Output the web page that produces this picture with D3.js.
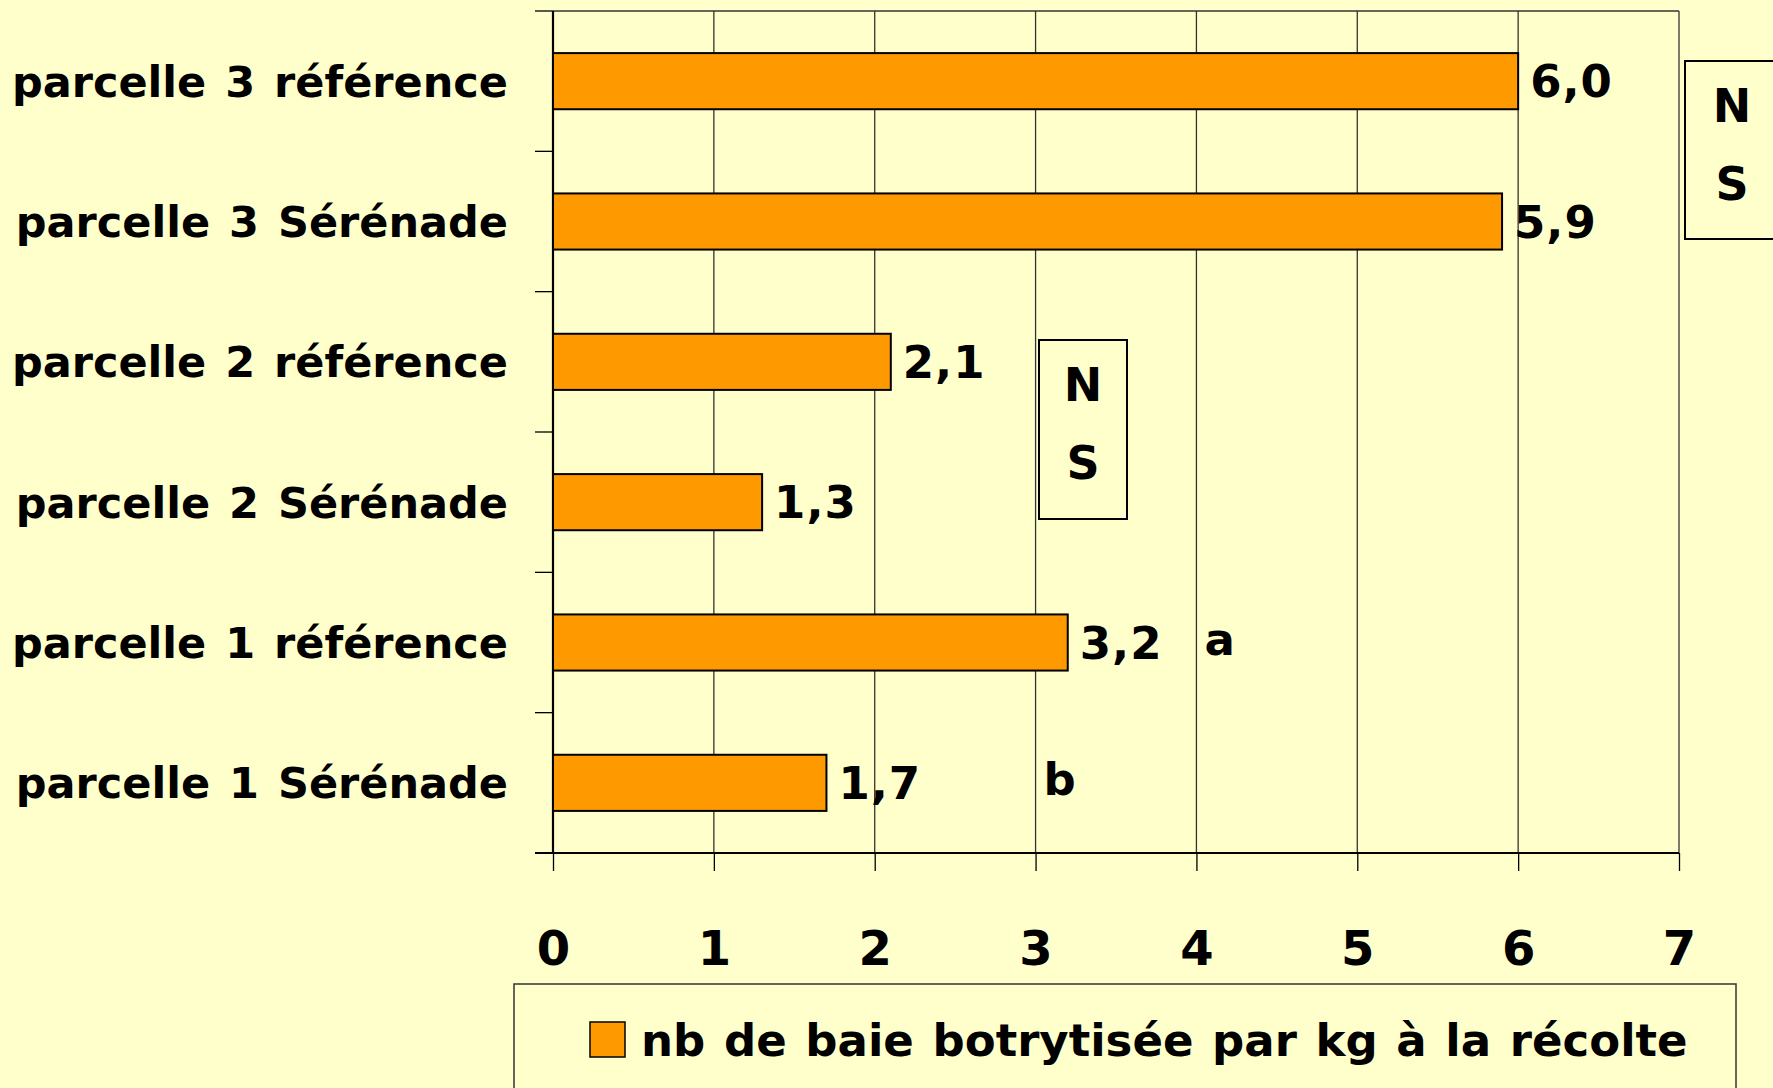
<!DOCTYPE html>
<html>
<head>
<meta charset="utf-8">
<script src="https://cdn.jsdelivr.net/npm/d3@7"></script>
<style>
  html, body { margin: 0; padding: 0; background: #ffffcc; }
  svg { display: block; }
  text { font-family: "Comic Sans MS", "DejaVu Sans", sans-serif; font-weight: bold; fill: #000; }
</style>
</head>
<body>
<svg id="chart" width="1773" height="1088"></svg>
<script>
// data, top to bottom as in the picture
const categories = [
  'parcelle 3 référence',
  'parcelle 3 Sérénade',
  'parcelle 2 référence',
  'parcelle 2 Sérénade',
  'parcelle 1 référence',
  'parcelle 1 Sérénade',
];
const values = [6.0, 5.9, 2.1, 1.3, 3.2, 1.7];
const xTicks = [0, 1, 2, 3, 4, 5, 6, 7];
const seriesName = 'nb de baie botrytisée par kg à la récolte';
// significance letters next to parcelle 1 bars
const letters = [
  { category: 'parcelle 1 référence', value: 4.0, text: 'a' },
  { category: 'parcelle 1 Sérénade', value: 3.0, text: 'b' },
];

const svg = d3.select('#chart');
const plotLeft = 553, plotRight = 1679, plotTop = 11, plotBottom = 853;

const x = d3.scaleLinear().domain([0, 7]).range([plotLeft, plotRight]);
const y = d3.scaleBand()
  .domain(categories)
  .range([plotTop, plotBottom])
  .paddingInner(0.6)
  .paddingOuter(0.3);
const step = y.step();
const bw = y.bandwidth();

// vertical grid lines
svg.append('g')
  .selectAll('line')
  .data(xTicks.slice(1))
  .enter()
  .append('line')
  .attr('x1', (d) => x(d))
  .attr('x2', (d) => x(d))
  .attr('y1', plotTop)
  .attr('y2', plotBottom)
  .attr('stroke', '#333')
  .attr('stroke-width', 1.3);

// top border
svg.append('line')
  .attr('x1', plotLeft).attr('x2', plotRight)
  .attr('y1', plotTop).attr('y2', plotTop)
  .attr('stroke', '#333').attr('stroke-width', 1.3);

// x axis
const xAxis = svg.append('g')
  .attr('transform', `translate(0,${plotBottom})`)
  .call(d3.axisBottom(x).tickValues(xTicks).tickSize(18).tickPadding(60).tickFormat(d3.format('d')));
xAxis.select('.domain').remove();
xAxis.selectAll('.tick line').attr('stroke', '#000').attr('stroke-width', 1.3);
xAxis.selectAll('.tick text').style('font-size', '48px').attr('dy', '0.71em');
svg.append('line')
  .attr('x1', plotLeft - 18).attr('x2', plotRight)
  .attr('y1', plotBottom).attr('y2', plotBottom)
  .attr('stroke', '#000').attr('stroke-width', 2.2);

// y axis: ticks at band boundaries, labels at band centres
const boundaries = d3.range(categories.length + 1).map((i) => plotTop + i * step);
svg.append('g')
  .selectAll('line')
  .data(boundaries)
  .enter()
  .append('line')
  .attr('x1', plotLeft - 18)
  .attr('x2', plotLeft)
  .attr('y1', (d) => d)
  .attr('y2', (d) => d)
  .attr('stroke', '#000')
  .attr('stroke-width', 1.3);
svg.append('line')
  .attr('x1', plotLeft).attr('x2', plotLeft)
  .attr('y1', plotTop).attr('y2', plotBottom)
  .attr('stroke', '#000').attr('stroke-width', 2.2);

svg.append('g')
  .selectAll('text')
  .data(categories)
  .enter()
  .append('text')
  .attr('x', plotLeft - 45)
  .attr('y', (d) => y(d) + bw / 2)
  .attr('dy', '0.36em')
  .attr('text-anchor', 'end')
  .style('font-size', '43px')
  .style('word-spacing', '4px')
  .text((d) => d);

// bars
const rows = categories.map((c, i) => ({ category: c, value: values[i] }));
svg.append('g')
  .selectAll('rect')
  .data(rows)
  .enter()
  .append('rect')
  .attr('x', x(0))
  .attr('y', (d) => y(d.category))
  .attr('width', (d) => x(d.value) - x(0))
  .attr('height', bw)
  .attr('fill', '#ff9900')
  .attr('stroke', '#000')
  .attr('stroke-width', 2);

// value labels
svg.append('g')
  .selectAll('text')
  .data(rows)
  .enter()
  .append('text')
  .attr('x', (d) => x(d.value) + 12)
  .attr('y', (d) => y(d.category) + bw / 2)
  .attr('dy', '0.36em')
  .style('font-size', '45px')
  .style('letter-spacing', '1px')
  .text((d) => d3.format('.1f')(d.value).replace('.', ','));

// a / b letters
svg.append('g')
  .selectAll('text')
  .data(letters)
  .enter()
  .append('text')
  .attr('x', (d) => x(d.value) + 8)
  .attr('y', (d) => y(d.category) + bw / 2 - 4)
  .attr('dy', '0.36em')
  .style('font-size', '45px')
  .text((d) => d.text);

// NS boxes
const nsBoxes = [
  { x0: 1039, y0: 340, w: 88, h: 179 },
  { x0: 1685, y0: 61, w: 100, h: 178 },
];
nsBoxes.forEach((b) => {
  svg.append('rect')
    .attr('x', b.x0).attr('y', b.y0)
    .attr('width', b.w).attr('height', b.h)
    .attr('fill', '#ffffcc')
    .attr('stroke', '#000').attr('stroke-width', 2);
  const cx = b.w > 90 ? b.x0 + 47 : b.x0 + b.w / 2;
  ['N', 'S'].forEach((t, i) => {
    svg.append('text')
      .attr('x', cx)
      .attr('y', b.y0 + 44 + i * 78)
      .attr('dy', '0.36em')
      .attr('text-anchor', 'middle')
      .style('font-size', '46px')
      .text(t);
  });
});

// legend
svg.append('rect')
  .attr('x', 514).attr('y', 984)
  .attr('width', 1222).attr('height', 140)
  .attr('fill', '#ffffcc')
  .attr('stroke', '#333').attr('stroke-width', 1.5);
svg.append('rect')
  .attr('x', 590).attr('y', 1022)
  .attr('width', 35).attr('height', 35)
  .attr('fill', '#ff9900')
  .attr('stroke', '#000').attr('stroke-width', 1.5);
svg.append('text')
  .attr('x', 641).attr('y', 1040)
  .attr('dy', '0.36em')
  .style('font-size', '45px')
  .style('word-spacing', '3px')
  .text(seriesName);
</script>
</body>
</html>
